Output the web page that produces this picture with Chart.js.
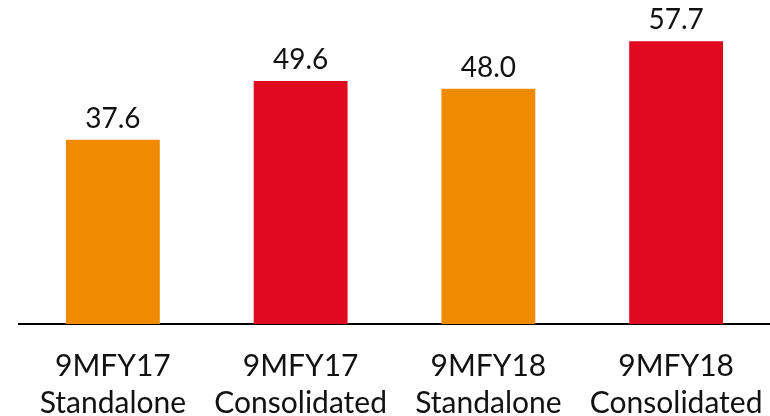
<!DOCTYPE html>
<html lang="en">
<head>
  <meta charset="UTF-8">
  <title>9MFY Chart</title>
  <script src="https://cdn.jsdelivr.net/npm/chart.js"></script>
  <style>
    html, body { margin: 0; padding: 0; background: #fff; overflow: hidden; }
    #wrap { width: 770px; height: 416px; }
  </style>
</head>
<body>
  <div id="wrap"><canvas id="myChart"></canvas></div>
  <script>
    var categories = [
      ['9MFY17', 'Standalone'],
      ['9MFY17', 'Consolidated'],
      ['9MFY18', 'Standalone'],
      ['9MFY18', 'Consolidated']
    ];
    var values = [37.6, 49.6, 48.0, 57.7];
    var barColors = ['#F08A00', '#DF0A20', '#F08A00', '#DF0A20'];

    // draws the value above every bar
    var valueLabels = {
      id: 'valueLabels',
      afterDatasetsDraw: function (chart) {
        var ctx = chart.ctx;
        var meta = chart.getDatasetMeta(0);
        ctx.save();
        ctx.font = '28px Lato';
        ctx.fillStyle = '#111';
        ctx.textAlign = 'center';
        ctx.textBaseline = 'alphabetic';
        meta.data.forEach(function (bar, i) {
          ctx.fillText(values[i].toFixed(1), bar.x, bar.y - 12);
        });
        ctx.restore();
      }
    };

    var ctx = document.getElementById('myChart').getContext('2d');
    var myChart = new Chart(ctx, {
      type: 'bar',
      data: {
        labels: categories,
        datasets: [{
          data: values,
          backgroundColor: barColors,
          barPercentage: 0.5,
          categoryPercentage: 1
        }]
      },
      options: {
        responsive: true,
        maintainAspectRatio: false,
        animation: false,
        layout: { padding: { left: 19, right: 0, top: 30, bottom: 0 } },
        plugins: { legend: { display: false }, tooltip: { enabled: false } },
        scales: {
          x: {
            grid: { display: false, drawTicks: false },
            border: { color: '#000', width: 2 },
            ticks: {
              color: '#111',
              font: { family: 'Lato', size: 30, lineHeight: 1.22 },
              padding: 24,
              maxRotation: 0,
              autoSkip: false
            },
            // keep the plot full width and the axis line at the same height
            afterFit: function (scale) {
              scale.paddingLeft = 0;
              scale.paddingRight = 0;
              scale.height = 92;
            }
          },
          y: {
            display: false,
            min: 0,
            max: 60
          }
        }
      },
      plugins: [valueLabels]
    });
  </script>
</body>
</html>
